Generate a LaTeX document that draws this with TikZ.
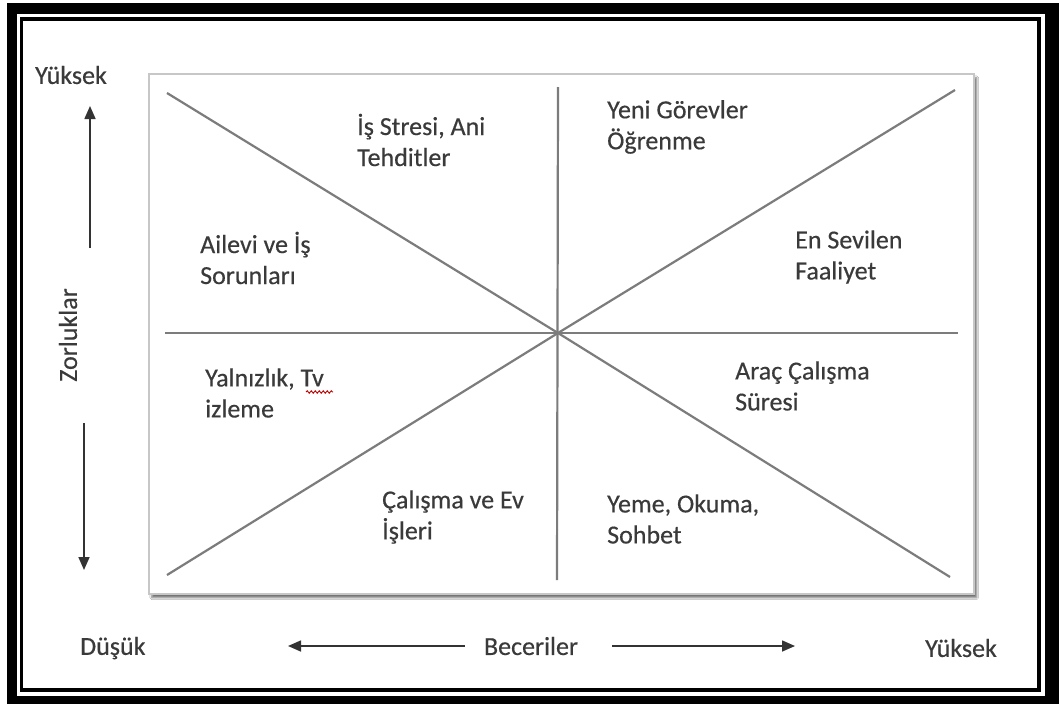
\documentclass[tikz,border=0pt]{standalone}
\usepackage{fontspec}
\setmainfont{Carlito}[FakeBold=0.4]
\usetikzlibrary{arrows.meta,shadows.blur,decorations.pathmorphing}
\definecolor{txt}{HTML}{3A3A3A}
\definecolor{ln}{HTML}{7C7C7C}
\tikzset{
  lbl/.style={anchor=west, inner sep=0pt, align=left, text=txt, font=\fontsize{26}{31}\selectfont},
  axlbl/.style={inner sep=0pt, text=txt, font=\fontsize{26}{31}\selectfont},
  qline/.style={draw=ln, line width=2.2pt},
  axarrow/.style={draw=black!80, line width=1.6pt, -{Triangle[length=13pt,width=11pt]}},
  plotbox/.style={draw=black!22, line width=1.5pt, fill=white,
    blur shadow={shadow xshift=3pt, shadow yshift=-4pt, shadow blur steps=6, shadow opacity=55}}
}
\begin{document}
\begin{tikzpicture}[x=1pt,y=-1pt]
\useasboundingbox (0,0) rectangle (1059,704);
% outer frame
\fill[white] (0,0) rectangle (1059,704);
\fill[black] (7,3) rectangle (1059,704);
\fill[white] (17,14) rectangle (1045,696);
\fill[black] (20,17) rectangle (1041,692);
\fill[white] (23,21) rectangle (1037,688);
% plot box
\node[plotbox, minimum width=825pt, minimum height=520pt, anchor=north west, inner sep=0pt] (box) at (148,73) {};
% line end points
\coordinate (C) at (558,333);
\coordinate (TL) at (167,93);
\coordinate (TR) at (955,90);
\coordinate (BL) at (167,575);
\coordinate (BR) at (950,577);
\coordinate (T) at (558,87);
\coordinate (B) at (557,580);
\coordinate (L) at (165,333);
\coordinate (R) at (958,333);
\draw[qline] (TL) -- (C) -- (BR);
\draw[qline] (BL) -- (C) -- (TR);
\draw[qline] (T) -- (B);
\draw[qline] (L) -- (R);
% quadrant labels
\node[lbl] (q1) at (357,140) {İş Stresi, Ani\\Tehditler};
\node[lbl] (q2) at (607,127) {Yeni Görevler\\Öğrenme};
\node[lbl] (q3) at (200,258) {Ailevi ve İş\\Sorunları};
\node[lbl] (q4) at (795,257) {En Sevilen\\Faaliyet};
\node[lbl] (q5) at (205,393) {Yalnızlık, Tv\\izleme};
\node[lbl] (q6) at (735,386) {Araç Çalışma\\Süresi};
\node[lbl] (q7) at (382,517) {Çalışma ve Ev\\İşleri};
\node[lbl] (q8) at (607,519) {Yeme, Okuma,\\Sohbet};
% spell-check squiggle under Tv
\coordinate (sq1) at (306,392);
\coordinate (sq2) at (333,392);
\draw[red!75!black, line width=0.9pt, decorate, decoration={snake, amplitude=1.2pt, segment length=4pt}] (sq1) -- (sq2);
% axis labels
\node[axlbl, anchor=west] (yk1) at (35,75) {Yüksek};
\node[axlbl, anchor=west] (dsk) at (80,648) {Düşük};
\node[axlbl, anchor=west] (yk2) at (925,648) {Yüksek};
\node[axlbl] (bec) at (531,646) {Beceriler};
\node[axlbl, rotate=90] (zor) at (68,335) {Zorluklar};
% axis arrows
\coordinate (Ltip) at (288,646);
\coordinate (Rtip) at (795,646);
\coordinate (Rbeg) at (612,646);
\coordinate (Lbeg) at (465,646);
\draw[axarrow] (Lbeg) -- (Ltip);
\draw[axarrow] (Rbeg) -- (Rtip);
\coordinate (Ubeg) at (90,248);
\coordinate (Utip) at (90,106);
\coordinate (Dbeg) at (84,423);
\coordinate (Dtip) at (84,570);
\draw[axarrow] (Ubeg) -- (Utip);
\draw[axarrow] (Dbeg) -- (Dtip);
\end{tikzpicture}
\end{document}
